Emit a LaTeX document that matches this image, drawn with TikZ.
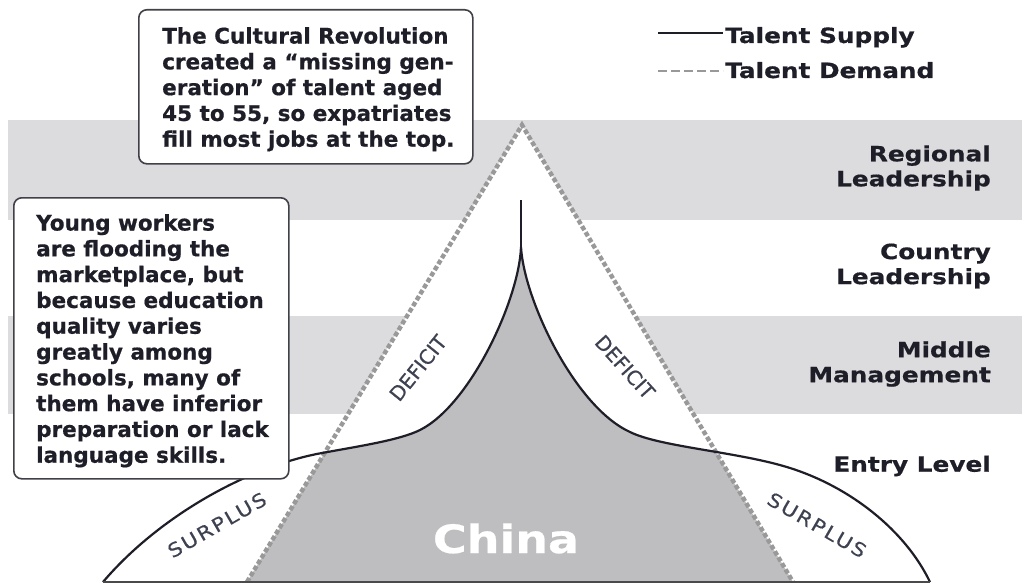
\documentclass[tikz,border=0pt]{standalone}
\usepackage{fontspec}
\setmainfont{DejaVu Sans}
\newfontfamily\boxfont{DejaVu Sans}[BoldFeatures={FakeBold=0.6}]
\newfontfamily\lblfont{DejaVu Sans}[FakeStretch=1.18,BoldFeatures={FakeBold=0.6}]
\newfontfamily\deffont{DejaVu Sans}[FakeBold=0.5]
\newfontfamily\surfont{DejaVu Sans}[FakeStretch=1.15,LetterSpace=10,FakeBold=0.2]

\definecolor{bandgray}{HTML}{DCDCDE}
\definecolor{fillgray}{HTML}{BEBEC0}
\definecolor{dashgray}{HTML}{999999}
\definecolor{inkdark}{HTML}{1E1E28}
\definecolor{tagink}{HTML}{3E4250}
\definecolor{basegray}{HTML}{4A4A4A}

\tikzset{
  band/.style={fill=bandgray, draw=none},
  supplyline/.style={draw=inkdark, line width=2.2pt, line join=round},
  demandline/.style={draw=dashgray, line width=4.4pt, dash pattern=on 4.6pt off 2.4pt},
  notebox/.style={draw=inkdark!85, line width=1.6pt, fill=white, rounded corners=8pt,
    inner sep=0pt},
  notetext/.style={anchor=north west, inner sep=0pt, align=left, text=inkdark,
    font=\boxfont\bfseries\fontsize{21.5}{25.8}\selectfont},
  levellabel/.style={anchor=east, inner sep=0pt, align=right, text=inkdark,
    font=\lblfont\bfseries\fontsize{21}{25}\selectfont},
  legendtext/.style={anchor=base west, inner sep=0pt, text=inkdark,
    font=\lblfont\bfseries\fontsize{21}{25}\selectfont},
  deficittag/.style={inner sep=0pt, text=tagink, font=\deffont\fontsize{20}{20}\selectfont},
  surplustag/.style={inner sep=0pt, text=tagink, font=\surfont\fontsize{19}{19}\selectfont},
}

\begin{document}
\begin{tikzpicture}[x=1pt, y=-1pt]
  % canvas
  \fill[white] (0,0) rectangle (1025,583);
  \useasboundingbox (0,0) rectangle (1025,583);

  % level bands
  \fill[band] (8,120) rectangle (1022,220);
  \fill[band] (8,316) rectangle (1022,414);

  % key points
  \coordinate (dL) at (247,582);
  \coordinate (apex) at (522,125);
  \coordinate (dR) at (793,582);
  \coordinate (cusp) at (521,247);
  \coordinate (spike) at (521,200);
  \coordinate (sL) at (103,582);
  \coordinate (sR) at (930,582);

  % talent supply outline
  \path[save path=\supplyP] (sL)
    .. controls (160,515) and (250,466) .. (322,453)
    .. controls (360,446) and (400,440) .. (420,430)
    .. controls (470,405) and (519,300) .. (cusp)
    .. controls (524,300) and (575,407) .. (630,432)
    .. controls (660,447) and (740,452) .. (790,468)
    .. controls (850,487) and (905,530) .. (sR);

  % white interior of demand and supply
  \fill[white] (dL) -- (apex) -- (dR) -- cycle;
  \fill[white, use path=\supplyP];

  % supply that meets demand
  \begin{scope}
    \clip (dL) -- (apex) -- (dR) -- cycle;
    \fill[fillgray, use path=\supplyP];
  \end{scope}

  % demand triangle sides
  \draw[demandline] (dL) -- (apex) -- (dR);

  % supply curve and spike
  \draw[supplyline, use path=\supplyP];
  \draw[supplyline] (cusp) -- (spike);

  % base line
  \draw[basegray, line width=2pt] (sL) -- (sR);

  % region tags
  \node[deficittag, rotate=51] (defL) at (418,368) {DEFICIT};
  \node[deficittag, rotate=-48] (defR) at (625,367) {DEFICIT};
  \node[surplustag, rotate=30] (surL) at (217,525) {SURPLUS};
  \node[surplustag, rotate=-30] (surR) at (817,525) {SURPLUS};

  \node[anchor=base, inner sep=0pt, text=white,
    font=\lblfont\bfseries\fontsize{39}{39}\selectfont] (china) at (506,553) {China};

  % notes
  \node[notebox, minimum width=334pt, minimum height=154pt, anchor=north west]
    (topbox) at (138,9) {};
  \node[notetext] (toptext) at (162,27) {The Cultural Revolution\\
    created a “missing gen-\\
    eration” of talent aged\\
    45 to 55, so expatriates\\
    fill most jobs at the top.};

  \node[notebox, minimum width=275pt, minimum height=281pt, anchor=north west]
    (leftbox) at (13,197) {};
  \node[notetext] (lefttext) at (36,214) {Young workers\\
    are flooding the\\
    marketplace, but\\
    because education\\
    quality varies\\
    greatly among\\
    schools, many of\\
    them have inferior\\
    preparation or lack\\
    language skills.};

  % level labels
  \node[levellabel] (regional) at (991,168) {Regional\\Leadership};
  \node[levellabel] (country) at (991,266) {Country\\Leadership};
  \node[levellabel] (middle) at (991,364) {Middle\\Management};
  \node[levellabel] (entry) at (991,466) {Entry Level};

  % legend
  \coordinate (ls1) at (658,33);
  \coordinate (ls2) at (723,33);
  \coordinate (ld1) at (658,71);
  \coordinate (ld2) at (723,71);
  \draw[inkdark, line width=1.6pt] (ls1) -- (ls2);
  \draw[dashgray, line width=1.6pt, dash pattern=on 9pt off 4pt] (ld1) -- (ld2);
  \node[legendtext] (supplykey) at (725,43) {Talent Supply};
  \node[legendtext] (demandkey) at (725,78) {Talent Demand};
\end{tikzpicture}
\end{document}
